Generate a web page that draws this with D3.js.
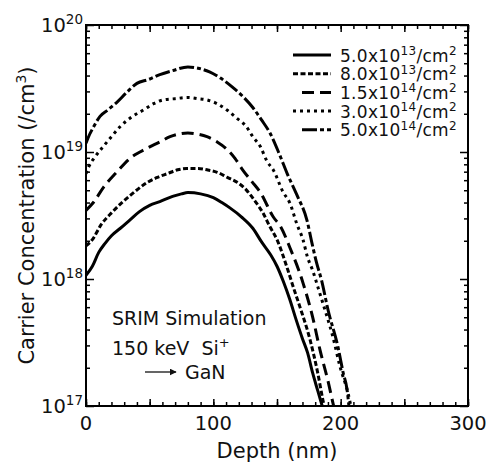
<!DOCTYPE html>
<html><head><meta charset="utf-8">
<script src="https://cdn.jsdelivr.net/npm/d3@7"></script>
<style>
body{margin:0;background:#fff;}
svg{display:block;}
text{font-family:"DejaVu Sans",Verdana,sans-serif;fill:#111;}
</style></head>
<body>
<svg id="chart" width="486" height="463"></svg>
<script>
// ---- data (depth in nm, concentration in /cm^3) ----
const doseLabels = [["5.0x10","13"],["8.0x10","13"],["1.5x10","14"],["3.0x10","14"],["5.0x10","14"]];

const depth5e13 = [0,5,10,15,20,27,35,42,50,58,68,75,80,90,100,107,113,122,131,138,145,150,155,160,165,170,174,178,182,185.5];
const conc5e13  = [1.07e18,1.26e18,1.62e18,1.91e18,2.19e18,2.51e18,2.95e18,3.39e18,3.80e18,4.07e18,4.47e18,4.68e18,4.79e18,4.68e18,4.37e18,3.98e18,3.63e18,3.09e18,2.51e18,1.95e18,1.55e18,1.26e18,9.55e17,6.92e17,4.79e17,3.39e17,2.63e17,1.82e17,1.32e17,1.0e17];

const depth8e13 = [0,5,12,21,28,35,48,56,64,72,79,88,95,103,111,119,126,133,139,144,150,158.6,163,168,176,182,186,187];
const conc8e13  = [1.82e18,2.04e18,2.69e18,3.39e18,3.98e18,4.57e18,5.75e18,6.31e18,6.76e18,7.24e18,7.41e18,7.41e18,7.24e18,6.92e18,6.31e18,5.75e18,5.01e18,4.07e18,3.31e18,2.63e18,2.04e18,1.17e18,8.51e17,6.03e17,3.31e17,1.82e17,1.12e17,1.0e17];

const depth1p5e14 = [0,5.6,13.6,24,34.6,48,58,66,80,88,95,103,110.7,117,123,130,137,147,153,160,170.4,178,183.8,190,194,194.5];
const conc1p5e14  = [3.47e18,3.98e18,5.25e18,6.92e18,8.91e18,1.07e19,1.20e19,1.32e19,1.41e19,1.38e19,1.32e19,1.20e19,1.05e19,8.91e18,7.24e18,5.89e18,4.79e18,3.09e18,2.57e18,1.78e18,9.33e17,5.01e17,2.75e17,1.58e17,1.05e17,1.0e17];

const depth3e14 = [0,2,7,13.4,20,26.7,35,45,53,60.5,70,80,88,95,103,110.7,118,126,131,137,142,147,155,160,165.7,170.4,174,178,182,186,194,199.5,205.8,208];
const conc3e14  = [6.76e18,7.59e18,9.12e18,1.10e19,1.32e19,1.58e19,1.86e19,2.14e19,2.40e19,2.57e19,2.63e19,2.69e19,2.63e19,2.57e19,2.40e19,2.14e19,1.86e19,1.58e19,1.32e19,1.10e19,8.51e18,7.24e18,4.79e18,3.98e18,2.69e18,2.04e18,1.48e18,1.17e18,8.71e17,6.46e17,3.47e17,2.04e17,1.26e17,1.0e17];

const depth5e14 = [0,1.6,6,11,17,24,32,40,49,58,68,80,88,97,106,115,123,131,138,144.5,152,158,165.7,173.6,177.5,181,185,190,198,202,205,206.5];
const conc5e14  = [1.17e19,1.29e19,1.58e19,1.91e19,2.14e19,2.45e19,2.95e19,3.47e19,3.72e19,4.07e19,4.37e19,4.68e19,4.57e19,4.27e19,3.80e19,3.24e19,2.75e19,2.24e19,1.78e19,1.41e19,9.55e18,6.76e18,4.57e18,2.88e18,1.91e18,1.35e18,9.77e17,5.75e17,2.88e17,1.82e17,1.35e17,1.0e17];

const xTickValues = [0,100,200,300];
const yTickExponents = [17,18,19,20];

// ---- layout ----
const svg = d3.select("#chart");
const L = 86, R = 468, T = 25, B = 406;
const x = d3.scaleLinear().domain([0,300]).range([L,R]);
const y = d3.scaleLog().domain([1e17,1e20]).range([B,T]);

const series = [
  {d:depth5e13, c:conc5e13, dash:null},
  {d:depth8e13, c:conc8e13, dash:"5,2.5"},
  {d:depth1p5e14, c:conc1p5e14, dash:"12,6"},
  {d:depth3e14, c:conc3e14, dash:"3,4"},
  {d:depth5e14, c:conc5e14, dash:"15,3,4,3"}
];

const defs = svg.append("defs");
defs.append("clipPath").attr("id","clip")
  .append("rect").attr("x",L).attr("y",T).attr("width",R-L).attr("height",B-T);
defs.append("marker").attr("id","arr").attr("viewBox","0 0 10 10").attr("refX",9).attr("refY",5)
  .attr("markerWidth",7).attr("markerHeight",7).attr("markerUnits","userSpaceOnUse").attr("orient","auto")
  .append("path").attr("d","M0,0L10,5L0,10z").attr("fill","#111");

const line = d3.line().x(p=>x(p[0])).y(p=>y(p[1])).curve(d3.curveMonotoneX);
const g = svg.append("g").attr("clip-path","url(#clip)");
series.forEach(s=>{
  const pts = s.d.map((v,i)=>[v,s.c[i]]);
  g.append("path").attr("d",line(pts)).attr("fill","none").attr("stroke","#000")
    .attr("stroke-width",3).attr("stroke-dasharray",s.dash);
});

// ---- ticks (inward on all four sides) ----
const xMinor = d3.range(0,301,10);
const xMajor = d3.range(0,301,50);
function styleAxis(sel){ sel.select(".domain").remove(); sel.selectAll("line").attr("stroke","#000").attr("stroke-width",1.5); }
svg.append("g").attr("transform",`translate(0,${B})`).call(d3.axisBottom(x).tickValues(xMinor).tickSize(-4).tickFormat("")).call(styleAxis);
svg.append("g").attr("transform",`translate(0,${B})`).call(d3.axisBottom(x).tickValues(xMajor).tickSize(-7).tickFormat("")).call(styleAxis);
svg.append("g").attr("transform",`translate(0,${T})`).call(d3.axisTop(x).tickValues(xMinor).tickSize(-4).tickFormat("")).call(styleAxis);
svg.append("g").attr("transform",`translate(0,${T})`).call(d3.axisTop(x).tickValues(xMajor).tickSize(-7).tickFormat("")).call(styleAxis);

const yMajor = yTickExponents.map(e=>Math.pow(10,e));
const yMinor = [];
yTickExponents.slice(0,-1).forEach(e=>{ for(let k=2;k<=9;k++) yMinor.push(k*Math.pow(10,e)); });
svg.append("g").attr("transform",`translate(${L},0)`).call(d3.axisLeft(y).tickValues(yMinor).tickSize(-4).tickFormat("")).call(styleAxis);
svg.append("g").attr("transform",`translate(${L},0)`).call(d3.axisLeft(y).tickValues(yMajor).tickSize(-8).tickFormat("")).call(styleAxis);
svg.append("g").attr("transform",`translate(${R},0)`).call(d3.axisRight(y).tickValues(yMinor).tickSize(-4).tickFormat("")).call(styleAxis);
svg.append("g").attr("transform",`translate(${R},0)`).call(d3.axisRight(y).tickValues(yMajor).tickSize(-8).tickFormat("")).call(styleAxis);

// frame
svg.append("rect").attr("x",L).attr("y",T).attr("width",R-L).attr("height",B-T)
  .attr("fill","none").attr("stroke","#000").attr("stroke-width",2);

// x tick labels
svg.selectAll(".xl").data(xTickValues).enter().append("text")
  .attr("x",d=>x(d)).attr("y",B+24).attr("text-anchor","middle")
  .style("font-size","19.5px").text(d=>d);

// y tick labels 10^n
yTickExponents.forEach(e=>{
  const t = svg.append("text").attr("x",L-3).attr("y",y(Math.pow(10,e))+7)
    .attr("text-anchor","end").style("font-size","19.5px");
  t.append("tspan").text("10");
  t.append("tspan").attr("dy",-8).style("font-size","13.5px").text(e);
});

// axis titles
svg.append("text").attr("x",(L+R)/2).attr("y",458).attr("text-anchor","middle")
  .style("font-size","21px").text("Depth (nm)");
const yt = svg.append("text").attr("transform",`translate(34,${(T+B)/2}) rotate(-90)`)
  .attr("text-anchor","middle").style("font-size","21px");
yt.append("tspan").text("Carrier Concentration (/cm");
yt.append("tspan").attr("dy",-8).style("font-size","14px").text("3");
yt.append("tspan").attr("dy",8).text(")");

// legend
const legY0 = 55, legDY = 18.7;
series.forEach((s,i)=>{
  const yy = legY0 + i*legDY;
  const x0 = (i===2||i===4) ? 302 : 293;
  svg.append("line").attr("x1",x0).attr("x2",331).attr("y1",yy).attr("y2",yy)
    .attr("stroke","#000").attr("stroke-width",3).attr("stroke-dasharray",s.dash);
  const t = svg.append("text").attr("x",340).attr("y",yy+6.5).style("font-size","17px")
    .style("letter-spacing","0.3px");
  t.append("tspan").text(doseLabels[i][0]);
  t.append("tspan").attr("dy",-6.5).style("font-size","12px").text(doseLabels[i][1]);
  t.append("tspan").attr("dy",6.5).text("/cm");
  t.append("tspan").attr("dy",-6.5).style("font-size","12px").text("2");
});

// annotations
svg.append("text").attr("x",112).attr("y",325).style("font-size","19px").text("SRIM Simulation");
const a2 = svg.append("text").attr("x",112).attr("y",355).style("font-size","19px").style("white-space","pre");
a2.append("tspan").text("150 keV  Si");
a2.append("tspan").attr("dy",-8).style("font-size","13px").text("+");
svg.append("line").attr("x1",145).attr("x2",176).attr("y1",372).attr("y2",372)
  .attr("stroke","#111").attr("stroke-width",1.3).attr("marker-end","url(#arr)");
svg.append("text").attr("x",185).attr("y",379).style("font-size","19px").text("GaN");
</script>
</body></html>
